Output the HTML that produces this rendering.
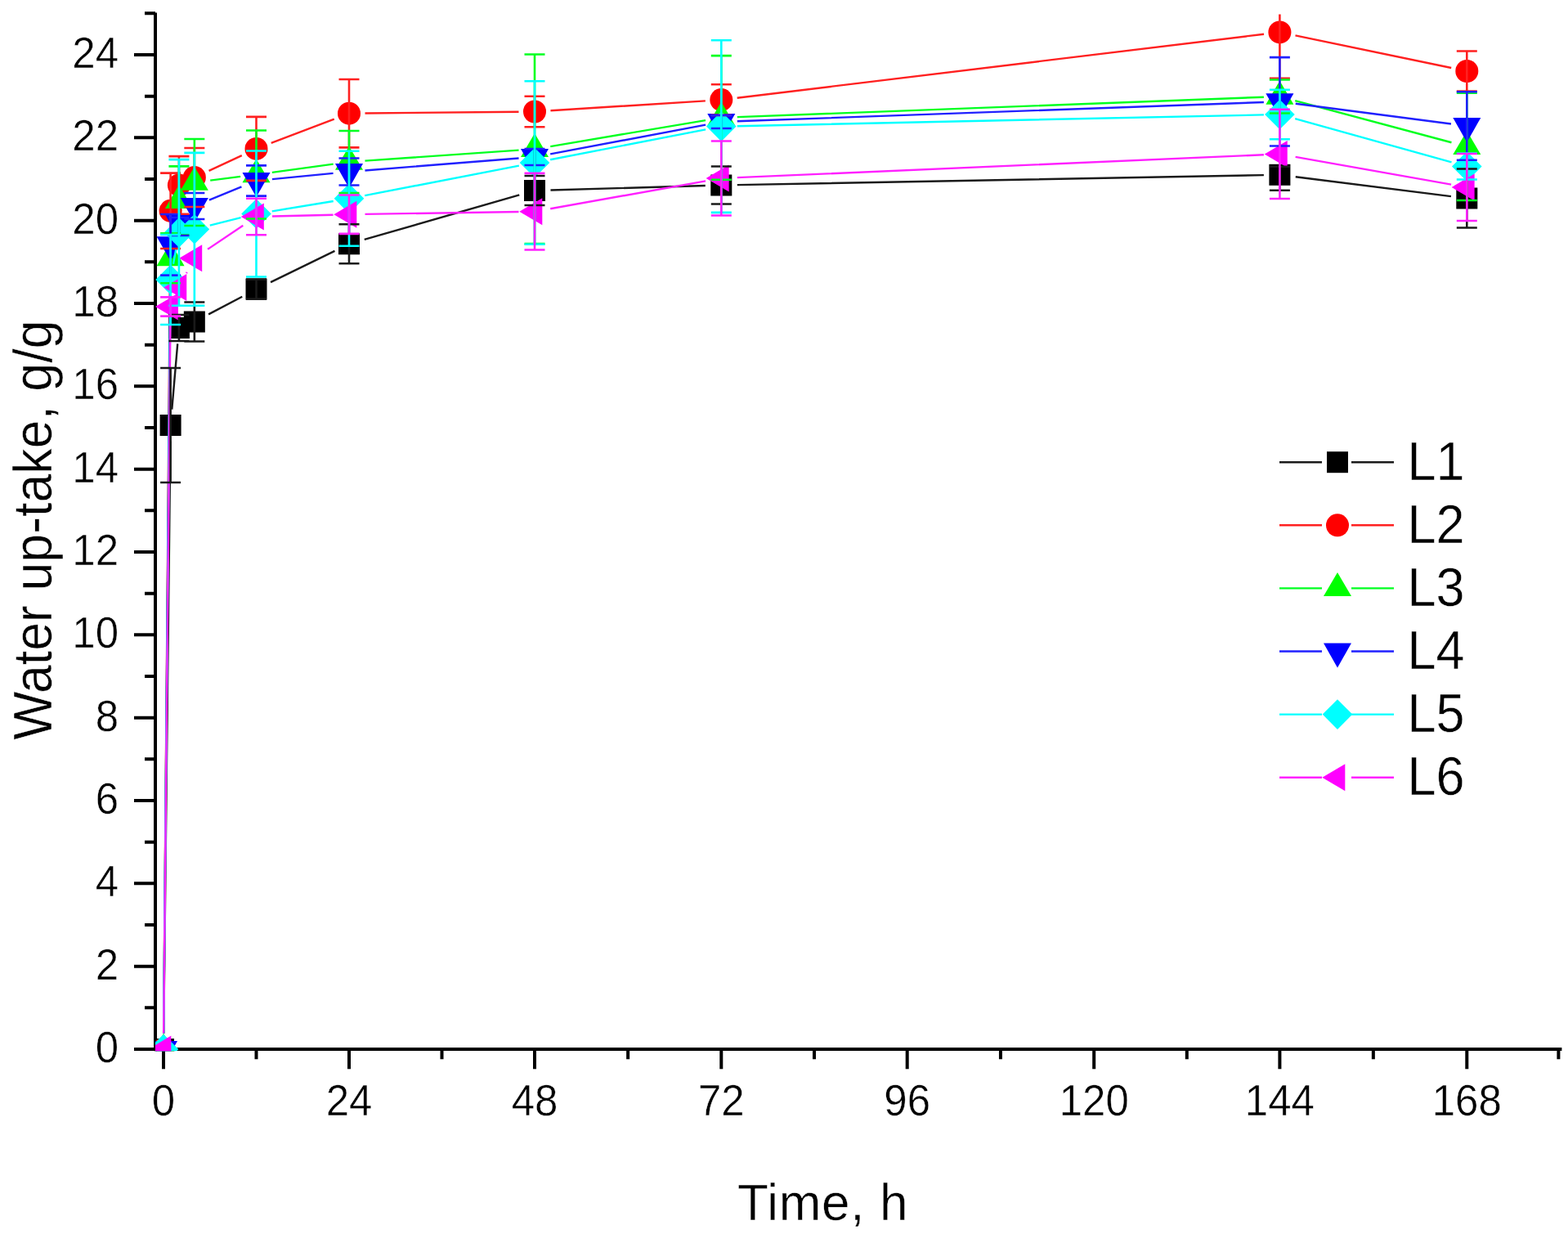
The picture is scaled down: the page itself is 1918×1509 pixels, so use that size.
<!DOCTYPE html>
<html><head><meta charset="utf-8"><title>Water up-take vs time</title>
<style>html,body{margin:0;padding:0;background:#fff;}svg{display:block;}text{font-family:"Liberation Sans",Arial,sans-serif;fill:#000;stroke:#fff;stroke-width:0.45px;}</style></head><body>
<svg width="1918" height="1509" viewBox="0 0 1918 1509">
<rect width="1918" height="1509" fill="#fff"/>
<defs><clipPath id="pc"><rect x="190" y="17.5" width="1722" height="1267.8"/></clipPath></defs>
<path d="M190 15.5V1285.3M188 1283H1910.4M164 1283H190M177 1232.33H190M164 1181.67H190M177 1131H190M164 1080.33H190M177 1029.66H190M164 979H190M177 928.33H190M164 877.66H190M177 827H190M164 776.33H190M177 725.66H190M164 675H190M177 624.33H190M164 573.66H190M177 523H190M164 472.33H190M177 421.66H190M164 370.99H190M177 320.33H190M164 269.66H190M177 218.99H190M164 168.33H190M177 117.66H190M164 66.99H190M177 16.33H190M200 1283V1307.3M313.5 1283V1295.3M427 1283V1307.3M540.5 1283V1295.3M654 1283V1307.3M768.15 1283V1295.3M882.3 1283V1307.3M996 1283V1295.3M1109.7 1283V1307.3M1223.95 1283V1295.3M1338.2 1283V1307.3M1451.8 1283V1295.3M1565.4 1283V1307.3M1679.85 1283V1295.3M1794.3 1283V1307.3M1906.4 1283V1295.3" stroke="#000" stroke-width="4.0" fill="none"/>
<text transform="translate(145 1299.1) scale(1 1.04)" font-size="51" text-anchor="end">0</text>
<text transform="translate(145 1197.77) scale(1 1.04)" font-size="51" text-anchor="end">2</text>
<text transform="translate(145 1096.43) scale(1 1.04)" font-size="51" text-anchor="end">4</text>
<text transform="translate(145 995.1) scale(1 1.04)" font-size="51" text-anchor="end">6</text>
<text transform="translate(145 893.76) scale(1 1.04)" font-size="51" text-anchor="end">8</text>
<text transform="translate(145 792.43) scale(1 1.04)" font-size="51" text-anchor="end">10</text>
<text transform="translate(145 691.1) scale(1 1.04)" font-size="51" text-anchor="end">12</text>
<text transform="translate(145 589.76) scale(1 1.04)" font-size="51" text-anchor="end">14</text>
<text transform="translate(145 488.43) scale(1 1.04)" font-size="51" text-anchor="end">16</text>
<text transform="translate(145 387.09) scale(1 1.04)" font-size="51" text-anchor="end">18</text>
<text transform="translate(145 285.76) scale(1 1.04)" font-size="51" text-anchor="end">20</text>
<text transform="translate(145 184.43) scale(1 1.04)" font-size="51" text-anchor="end">22</text>
<text transform="translate(145 83.09) scale(1 1.04)" font-size="51" text-anchor="end">24</text>
<text transform="translate(200 1364) scale(1 1.04)" font-size="51" text-anchor="middle">0</text>
<text transform="translate(427 1364) scale(1 1.04)" font-size="51" text-anchor="middle">24</text>
<text transform="translate(654 1364) scale(1 1.04)" font-size="51" text-anchor="middle">48</text>
<text transform="translate(882.3 1364) scale(1 1.04)" font-size="51" text-anchor="middle">72</text>
<text transform="translate(1109.7 1364) scale(1 1.04)" font-size="51" text-anchor="middle">96</text>
<text transform="translate(1338.2 1364) scale(1 1.04)" font-size="51" text-anchor="middle">120</text>
<text transform="translate(1565.4 1364) scale(1 1.04)" font-size="51" text-anchor="middle">144</text>
<text transform="translate(1794.3 1364) scale(1 1.04)" font-size="51" text-anchor="middle">168</text>
<text transform="translate(902.1 1492) scale(1 1.02)" font-size="62" letter-spacing="0.65">Time, h</text>
<text transform="translate(62.6 648.2) rotate(-90) scale(1 1.06)" x="0" y="0" font-size="62.7" text-anchor="middle">Water up-take, g/g</text>
<g clip-path="url(#pc)">
<path d="M200.22 1263.5L208.38 539.5M210.28 500.57L217.23 420.43M255.08 384.4L296.25 362.7M331.03 345.06L409.47 306.84M445.74 292.91L635.26 238.39M673.49 232.45L862.81 227.05M901.8 226.14L1545.9 214.16M1584.75 216.23L1774.95 240.07" stroke="#1a1a1a" stroke-width="2.4" fill="none"/>
<rect x="187" y="1270" width="26" height="26" fill="#000000"/>
<rect x="195.6" y="507" width="26" height="26" fill="#000000"/>
<rect x="205.92" y="388" width="26" height="26" fill="#000000"/>
<rect x="224.83" y="380.5" width="26" height="26" fill="#000000"/>
<rect x="300.5" y="340.6" width="26" height="26" fill="#000000"/>
<rect x="414" y="285.3" width="26" height="26" fill="#000000"/>
<rect x="641" y="220" width="26" height="26" fill="#000000"/>
<rect x="869.3" y="213.5" width="26" height="26" fill="#000000"/>
<rect x="1552.4" y="200.8" width="26" height="26" fill="#000000"/>
<rect x="1781.3" y="229.5" width="26" height="26" fill="#000000"/>
<path d="M200.16 1263.5L208.44 277.3M255.52 208.79L295.81 190.11M331.72 174.96L408.78 145.64M446.5 138.51L634.5 136.69M673.46 135.27L862.84 123.33M901.66 119.76L1546.04 41.74M1584.49 43.37L1775.21 83.03" stroke="#ff2020" stroke-width="2.4" fill="none"/>
<circle cx="200" cy="1283" r="14" fill="#ff0000"/>
<circle cx="208.6" cy="257.8" r="14" fill="#ff0000"/>
<circle cx="218.92" cy="226.4" r="14" fill="#ff0000"/>
<circle cx="237.83" cy="217" r="14" fill="#ff0000"/>
<circle cx="313.5" cy="181.9" r="14" fill="#ff0000"/>
<circle cx="427" cy="138.7" r="14" fill="#ff0000"/>
<circle cx="654" cy="136.5" r="14" fill="#ff0000"/>
<circle cx="882.3" cy="122.1" r="14" fill="#ff0000"/>
<circle cx="1565.4" cy="39.4" r="14" fill="#ff0000"/>
<circle cx="1794.3" cy="87" r="14" fill="#ff0000"/>
<path d="M200.17 1263.5L208.43 335.2M211.43 296.41L216.09 264.69M257.18 220.57L294.15 215.93M332.82 210.86L407.68 200.64M446.45 196.65L634.55 183.65M673.23 179.07L863.07 147.13M901.79 143.16L1545.91 118.74M1584.24 123.04L1775.46 174.26" stroke="#00ff20" stroke-width="2.4" fill="none"/>
<polygon points="200,1263.67 217,1292.67 183,1292.67" fill="#00ff00"/>
<polygon points="208.6,296.37 225.6,325.37 191.6,325.37" fill="#00ff00"/>
<polygon points="218.92,226.07 235.92,255.07 201.92,255.07" fill="#00ff00"/>
<polygon points="237.83,203.67 254.83,232.67 220.83,232.67" fill="#00ff00"/>
<polygon points="313.5,194.17 330.5,223.17 296.5,223.17" fill="#00ff00"/>
<polygon points="427,178.67 444,207.67 410,207.67" fill="#00ff00"/>
<polygon points="654,162.97 671,191.97 637,191.97" fill="#00ff00"/>
<polygon points="882.3,124.57 899.3,153.57 865.3,153.57" fill="#00ff00"/>
<polygon points="1565.4,98.67 1582.4,127.67 1548.4,127.67" fill="#00ff00"/>
<polygon points="1794.3,159.97 1811.3,188.97 1777.3,188.97" fill="#00ff00"/>
<path d="M200.17 1263.5L208.43 318.8M255.88 244.61L295.46 228.39M332.91 219.12L407.59 211.88M446.44 208.46L634.56 193.54M673.16 188.39L863.14 152.61M901.79 148.3L1545.91 125M1584.74 126.81L1774.96 151.49" stroke="#2020ff" stroke-width="2.4" fill="none"/>
<polygon points="200,1303 217,1273 183,1273" fill="#0000ff"/>
<polygon points="208.6,319.3 225.6,289.3 191.6,289.3" fill="#0000ff"/>
<polygon points="218.92,292 235.92,262 201.92,262" fill="#0000ff"/>
<polygon points="237.83,272 254.83,242 220.83,242" fill="#0000ff"/>
<polygon points="313.5,241 330.5,211 296.5,211" fill="#0000ff"/>
<polygon points="427,230 444,200 410,200" fill="#0000ff"/>
<polygon points="654,212 671,182 637,182" fill="#0000ff"/>
<polygon points="882.3,169 899.3,139 865.3,139" fill="#0000ff"/>
<polygon points="1565.4,144.3 1582.4,114.3 1548.4,114.3" fill="#0000ff"/>
<polygon points="1794.3,174 1811.3,144 1777.3,144" fill="#0000ff"/>
<path d="M200.18 1263.5L208.42 361.5M212.04 322.81L215.48 303.59M256.76 275.6L294.58 266.2M332.74 258.33L407.76 245.97M446.15 239.11L634.85 202.69M673.14 195.28L863.16 158.32M901.8 154.18L1545.9 140.42M1584.19 145.21L1775.51 198.29" stroke="#00ffff" stroke-width="2.4" fill="none"/>
<polygon points="200,1264.7 218.3,1283 200,1301.3 181.7,1283" fill="#00ffff"/>
<polygon points="208.6,323.7 226.9,342 208.6,360.3 190.3,342" fill="#00ffff"/>
<polygon points="218.92,266.1 237.22,284.4 218.92,302.7 200.62,284.4" fill="#00ffff"/>
<polygon points="237.83,262 256.13,280.3 237.83,298.6 219.53,280.3" fill="#00ffff"/>
<polygon points="313.5,243.2 331.8,261.5 313.5,279.8 295.2,261.5" fill="#00ffff"/>
<polygon points="427,224.5 445.3,242.8 427,261.1 408.7,242.8" fill="#00ffff"/>
<polygon points="654,180.7 672.3,199 654,217.3 635.7,199" fill="#00ffff"/>
<polygon points="882.3,136.3 900.6,154.6 882.3,172.9 864,154.6" fill="#00ffff"/>
<polygon points="1565.4,121.7 1583.7,140 1565.4,158.3 1547.1,140" fill="#00ffff"/>
<polygon points="1794.3,185.2 1812.6,203.5 1794.3,221.8 1776,203.5" fill="#00ffff"/>
<path d="M200.18 1263.5L208.42 394.5M228.05 334.17L228.7 332.93M254.03 304.85L297.3 275.85M332.99 264.52L407.51 262.68M446.5 261.9L634.5 259M673.2 255.28L863.1 221.42M901.78 217.16L1545.92 189.24M1584.6 191.81L1775.1 225.59" stroke="#ff20ff" stroke-width="2.4" fill="none"/>
<polygon points="181.33,1283 209.33,1266.5 209.33,1299.5" fill="#ff00ff"/>
<polygon points="189.93,375 217.93,358.5 217.93,391.5" fill="#ff00ff"/>
<polygon points="200.25,351.4 228.25,334.9 228.25,367.9" fill="#ff00ff"/>
<polygon points="219.17,315.7 247.17,299.2 247.17,332.2" fill="#ff00ff"/>
<polygon points="294.83,265 322.83,248.5 322.83,281.5" fill="#ff00ff"/>
<polygon points="408.33,262.2 436.33,245.7 436.33,278.7" fill="#ff00ff"/>
<polygon points="635.33,258.7 663.33,242.2 663.33,275.2" fill="#ff00ff"/>
<polygon points="863.63,218 891.63,201.5 891.63,234.5" fill="#ff00ff"/>
<polygon points="1546.73,188.4 1574.73,171.9 1574.73,204.9" fill="#ff00ff"/>
<polygon points="1775.63,229 1803.63,212.5 1803.63,245.5" fill="#ff00ff"/>
<path d="M208.6 450V590M196.1 450H221.1M196.1 590H221.1M218.92 385V417M206.42 385H231.42M206.42 417H231.42M237.83 369.5V417.5M225.33 369.5H250.33M225.33 417.5H250.33M313.5 341.6V365.6M301 341.6H326M301 365.6H326M427 274.3V322.3M414.5 274.3H439.5M414.5 322.3H439.5M654 215V251M641.5 215H666.5M641.5 251H666.5M882.3 203.5V249.5M869.8 203.5H894.8M869.8 249.5H894.8M1565.4 203.8V232.7M1552.9 203.8H1577.9M1552.9 232.7H1577.9M1794.3 206.5V278.5M1781.8 206.5H1806.8M1781.8 278.5H1806.8" stroke="#1a1a1a" stroke-width="2.6" fill="none"/>
<path d="M208.6 211.6V304M196.1 211.6H221.1M196.1 304H221.1M218.92 191.1V261.7M206.42 191.1H231.42M206.42 261.7H231.42M237.83 181V253M225.33 181H250.33M225.33 253H250.33M313.5 142.9V220.9M301 142.9H326M301 220.9H326M427 97V180.4M414.5 97H439.5M414.5 180.4H439.5M654 117.7V155.3M641.5 117.7H666.5M641.5 155.3H666.5M882.3 103.3V140.9M869.8 103.3H894.8M869.8 140.9H894.8M1565.4 -16.9V95.7M1552.9 -16.9H1577.9M1552.9 95.7H1577.9M1794.3 62.5V111.5M1781.8 62.5H1806.8M1781.8 111.5H1806.8" stroke="#ff2020" stroke-width="2.6" fill="none"/>
<path d="M208.6 285.2V346.2M196.1 285.2H221.1M196.1 346.2H221.1M218.92 203.4V287.4M206.42 203.4H231.42M206.42 287.4H231.42M237.83 170V276M225.33 170H250.33M225.33 276H250.33M313.5 159.5V267.5M301 159.5H326M301 267.5H326M427 160V236M414.5 160H439.5M414.5 236H439.5M654 66.5V298.1M641.5 66.5H666.5M641.5 298.1H666.5M882.3 68.1V219.7M869.8 68.1H894.8M869.8 219.7H894.8M1565.4 97.5V138.5M1552.9 97.5H1577.9M1552.9 138.5H1577.9M1794.3 113.6V245M1781.8 113.6H1806.8M1781.8 245H1806.8" stroke="#00ff20" stroke-width="2.6" fill="none"/>
<path d="M208.6 262V336.6M196.1 262H221.1M196.1 336.6H221.1M218.92 266V288M206.42 266H231.42M206.42 288H231.42M237.83 236V268M225.33 236H250.33M225.33 268H250.33M313.5 202.4V239.6M301 202.4H326M301 239.6H326M427 193.5V226.5M414.5 193.5H439.5M414.5 226.5H439.5M654 182V202M641.5 182H666.5M641.5 202H666.5M882.3 141V157M869.8 141H894.8M869.8 157H894.8M1565.4 70.1V178.5M1552.9 70.1H1577.9M1552.9 178.5H1577.9M1794.3 112.2V195.8M1781.8 112.2H1806.8M1781.8 195.8H1806.8" stroke="#2020ff" stroke-width="2.6" fill="none"/>
<path d="M208.6 287V397M196.1 287H221.1M196.1 397H221.1M218.92 195.1V373.7M206.42 195.1H231.42M206.42 373.7H231.42M237.83 186.9V373.7M225.33 186.9H250.33M225.33 373.7H250.33M313.5 184.5V338.5M301 184.5H326M301 338.5H326M427 184.8V300.8M414.5 184.8H439.5M414.5 300.8H439.5M654 99.3V298.7M641.5 99.3H666.5M641.5 298.7H666.5M882.3 49.3V259.9M869.8 49.3H894.8M869.8 259.9H894.8M1565.4 109.8V170.2M1552.9 109.8H1577.9M1552.9 170.2H1577.9M1794.3 187.5V219.5M1781.8 187.5H1806.8M1781.8 219.5H1806.8" stroke="#00ffff" stroke-width="2.6" fill="none"/>
<path d="M208.6 363.4V386.6M196.1 363.4H221.1M196.1 386.6H221.1M313.5 242.8V287.2M301 242.8H326M301 287.2H326M427 238.5V285.9M414.5 238.5H439.5M414.5 285.9H439.5M654 211.9V305.5M641.5 211.9H666.5M641.5 305.5H666.5M882.3 172.5V263.5M869.8 172.5H894.8M869.8 263.5H894.8M1565.4 133.8V243M1552.9 133.8H1577.9M1552.9 243H1577.9M1794.3 188V270M1781.8 188H1806.8M1781.8 270H1806.8" stroke="#ff20ff" stroke-width="2.6" fill="none"/>
</g>
<path d="M1565 565.2H1617M1653 565.2H1705" stroke="#1a1a1a" stroke-width="2.4"/>
<rect x="1623" y="552.2" width="26" height="26" fill="#000000"/>
<text transform="translate(1721.5 586.6) scale(1 1.05)" font-size="63">L1</text>
<path d="M1565 642.3H1617M1653 642.3H1705" stroke="#ff2020" stroke-width="2.4"/>
<circle cx="1636" cy="642.3" r="14" fill="#ff0000"/>
<text transform="translate(1721.5 663.7) scale(1 1.05)" font-size="63">L2</text>
<path d="M1565 719.4H1617M1653 719.4H1705" stroke="#00ff20" stroke-width="2.4"/>
<polygon points="1636,700.07 1653,729.07 1619,729.07" fill="#00ff00"/>
<text transform="translate(1721.5 740.8) scale(1 1.05)" font-size="63">L3</text>
<path d="M1565 796.5H1617M1653 796.5H1705" stroke="#2020ff" stroke-width="2.4"/>
<polygon points="1636,816.5 1653,786.5 1619,786.5" fill="#0000ff"/>
<text transform="translate(1721.5 817.9) scale(1 1.05)" font-size="63">L4</text>
<path d="M1565 873.6H1617M1653 873.6H1705" stroke="#00ffff" stroke-width="2.4"/>
<polygon points="1636,855.3 1654.3,873.6 1636,891.9 1617.7,873.6" fill="#00ffff"/>
<text transform="translate(1721.5 895) scale(1 1.05)" font-size="63">L5</text>
<path d="M1565 950.7H1617M1653 950.7H1705" stroke="#ff20ff" stroke-width="2.4"/>
<polygon points="1617.33,950.7 1645.33,934.2 1645.33,967.2" fill="#ff00ff"/>
<text transform="translate(1721.5 972.1) scale(1 1.05)" font-size="63">L6</text>
</svg>
</body></html>
